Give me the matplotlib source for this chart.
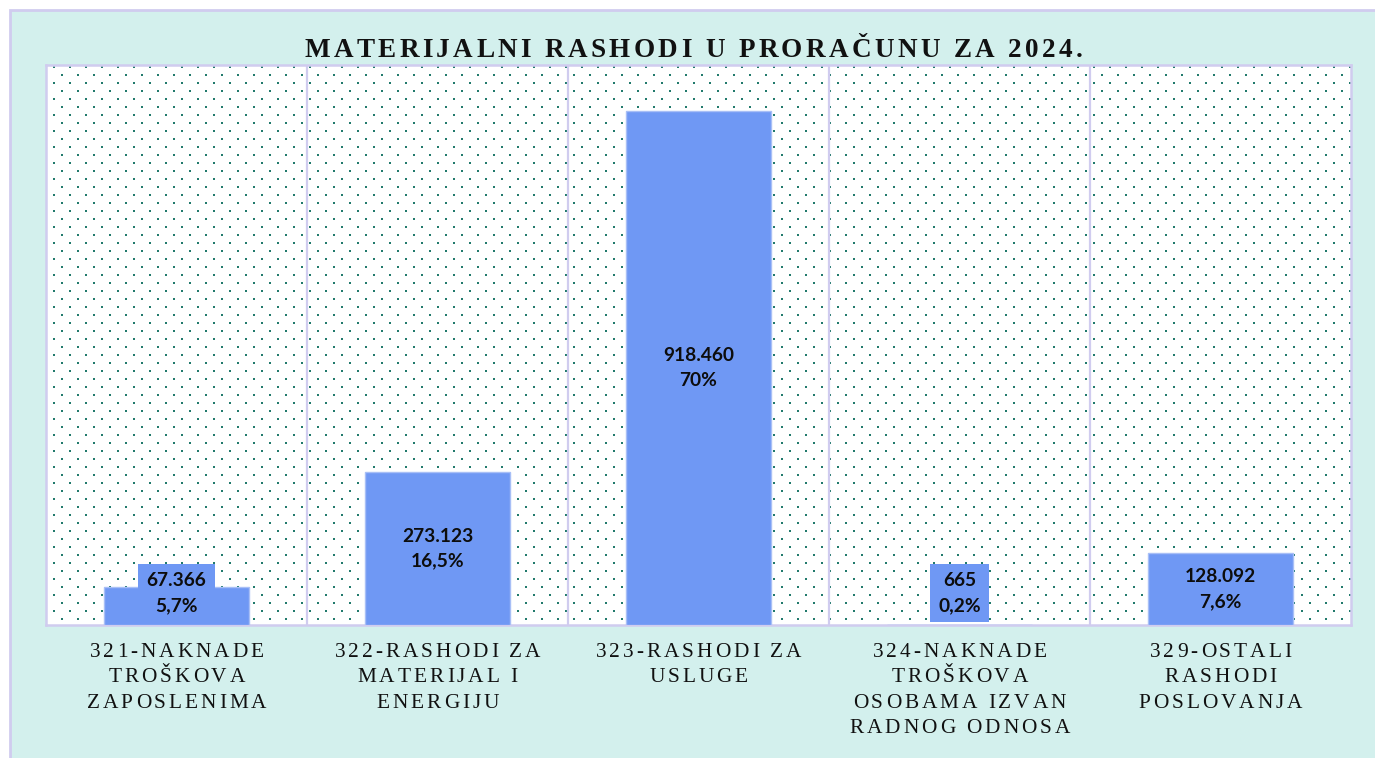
import numpy as np
import matplotlib
matplotlib.use('Agg')
import matplotlib.pyplot as plt
from matplotlib.patches import Rectangle
from matplotlib import font_manager
from matplotlib.font_manager import FontProperties
from matplotlib.ft2font import FT2Font

# ---------------- data ----------------
categories = [
    "321-NAKNADE\nTROŠKOVA\nZAPOSLENIMA",
    "322-RASHODI ZA\nMATERIJAL I\nENERGIJU",
    "323-RASHODI ZA\nUSLUGE",
    "324-NAKNADE\nTROŠKOVA\nOSOBAMA IZVAN\nRADNOG ODNOSA",
    "329-OSTALI\nRASHODI\nPOSLOVANJA",
]
values = [67366, 273123, 918460, 665, 128092]
value_labels = ["67.366", "273.123", "918.460", "665", "128.092"]
percent_labels = ["5,7%", "16,5%", "70%", "0,2%", "7,6%"]
title = "MATERIJALNI RASHODI U PRORAČUNU ZA 2024."
y_max = 1_000_000

# ---------------- style ----------------
W, H, DPI = 1375, 758, 100
BG = '#d3f0ed'
BORDER = '#d0ccef'
BAR = '#6f98f4'
BAR_EDGE = '#a8bff6'
DOT = np.array([0x21, 0x7a, 0x6c]) / 255.0

fig = plt.figure(figsize=(W / DPI, H / DPI), dpi=DPI, facecolor='white')

# chart-area background (left/top border visible, right/bottom cut off)
fig.patches.append(Rectangle((10 / W, -0.05), 1.1, 1.05 - 10 / H,
                             transform=fig.transFigure, facecolor=BG,
                             edgecolor=BORDER, lw=2, zorder=-3))

L, R, T, B = 46, 1351, 65, 625
ax = fig.add_axes([L / W, 1 - B / H, (R - L) / W, (B - T) / H])
ax.set_facecolor('none')

# dotted plot-area fill pattern
pw, ph = R - L, B - T
pat = np.ones((ph, pw, 4))
for k, yy in enumerate(range(66 - T, ph, 8)):
    x0 = ((53 if k % 2 == 0 else 45) - L) % 16
    xs = np.arange(x0, pw - 1, 16)
    for dy in (0, 1):
        if yy + dy < ph:
            for dx in (0, 1):
                pat[yy + dy, xs + dx, :3] = DOT
fig.figimage(pat, xo=L, yo=H - B, origin='upper', zorder=-1)

x = np.arange(len(values))
ax.bar(x, values, width=0.556, color=BAR, edgecolor=BAR_EDGE, lw=1, zorder=3)
ax.set_xlim(-0.5, len(values) - 0.5)
ax.set_ylim(0, y_max)
ax.set_yticks([])
ax.set_xticks(x)
ax.tick_params(axis='x', which='both', length=0, labelbottom=False)
ax.set_xticks(np.arange(0.5, len(values) - 0.5, 1), minor=True)
ax.grid(True, which='minor', axis='x', color=BORDER, lw=1.6, zorder=1)
ax.grid(False, which='major')
ax.set_axisbelow(True)
for s in ax.spines.values():
    s.set_color(BORDER)
    s.set_linewidth(1.8)

# data labels
half_box = 32 / (B - T) * y_max
for xi, v, vl, pl in zip(x, values, value_labels, percent_labels):
    yc = max(v / 2, half_box)
    ax.text(xi, yc, f"{vl}\n{pl}", ha='center', va='center', fontsize=13.8,
            fontweight='bold', family='Lato', color='#0d0d0d', linespacing=1.55,
            zorder=5, bbox=dict(boxstyle='square,pad=0.45', fc=BAR, ec='none'))


# letter-spaced text helper
def char_advances(line, fp, size):
    font = FT2Font(font_manager.findfont(fp))
    font.set_size(size, 72)
    return [font.load_char(ord(ch)).linearHoriAdvance / 65536 for ch in line]


def spaced_text(xy, xycoords, text, size, spacing, y_off, line_gap, weight):
    fp = FontProperties(family='Liberation Serif', weight=weight)
    for li, line in enumerate(text.split('\n')):
        adv = char_advances(line, fp, size)
        total = sum(adv) + spacing * (len(line) - 1)
        xo = -total / 2
        for ch, a in zip(line, adv):
            if ch != ' ':
                ax.annotate(ch, xy=xy, xycoords=xycoords,
                            xytext=(xo, y_off - li * line_gap),
                            textcoords='offset points', ha='left',
                            va='baseline', fontproperties=fp, fontsize=size,
                            color='#111111', annotation_clip=False)
            xo += a + spacing


# title
spaced_text((693.5 / W, 1 - 57 / H), 'figure fraction', title, 19.5, 2.45, 0, 0, 'bold')

# category labels
for xi, cat in zip(x, categories):
    spaced_text((xi, 0), ('data', 'axes fraction'), cat, 15.4, 2.1,
                -32 * 72 / DPI, 25.3 * 72 / DPI, 'normal')

fig.savefig('out.png', dpi=DPI, facecolor='white')
